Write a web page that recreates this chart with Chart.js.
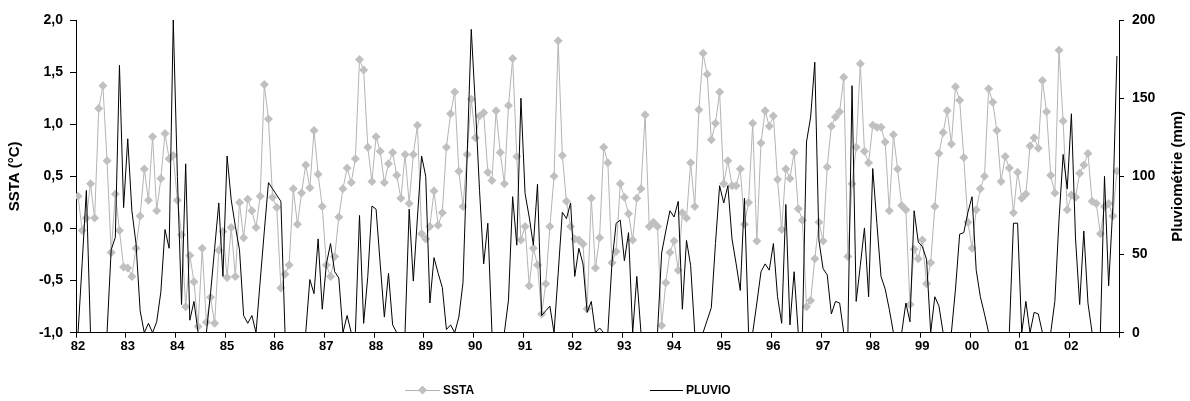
<!DOCTYPE html>
<html><head><meta charset="utf-8">
<script src="https://cdn.jsdelivr.net/npm/chart.js@4.4.1/dist/chart.umd.min.js"></script>
<style>html,body{margin:0;padding:0;background:#fff}#wrap{width:1190px;height:401px}</style>
</head><body><div id="wrap"><canvas id="c" width="1190" height="401"></canvas></div>
<script>
// Category (year) labels, one per 12 monthly values
const years = ['82','83','84','85','86','87','88','89','90','91','92','93','94','95','96','97','98','99','00','01','02'];
// Monthly SSTA (°C), Jan 1982 - Dec 2002
const sstaValues = [
 0.31,-0.02,0.10,0.43,0.10,1.15,1.37,0.65,-0.23,0.33,-0.02,-0.37,
 -0.38,-0.46,-0.19,0.12,0.57,0.27,0.88,0.17,0.48,0.91,0.67,0.70,
 0.27,-0.06,-0.75,-0.26,-0.51,-0.94,-0.19,-0.90,-0.66,-0.91,-0.21,-0.03,
 -0.47,0.01,-0.46,0.25,-0.09,0.28,0.17,0.01,0.31,1.38,1.05,0.30,
 0.20,-0.57,-0.44,-0.35,0.38,0.04,0.34,0.61,0.39,0.94,0.52,0.21,
 -0.35,-0.46,-0.27,0.11,0.38,0.58,0.44,0.67,1.62,1.52,0.78,0.45,
 0.88,0.74,0.44,0.62,0.73,0.51,0.29,0.71,0.24,0.71,0.99,-0.05,
 -0.10,0.02,0.36,0.03,0.15,0.78,1.10,1.31,0.55,0.21,0.71,1.24,
 0.87,1.08,1.11,0.54,0.46,1.13,0.73,0.43,1.18,1.63,0.69,-0.11,
 0.02,-0.55,-0.19,-0.35,-0.82,-0.53,0.02,0.50,1.80,0.70,0.26,0.02,
 -0.10,-0.11,-0.15,-0.77,0.29,-0.38,-0.09,0.78,0.63,-0.33,-0.22,0.43,
 0.30,0.14,-0.11,0.29,0.38,1.09,0.02,0.06,0.02,-0.93,-0.52,-0.23,
 -0.12,-0.40,0.15,0.10,0.63,0.21,1.14,1.68,1.48,0.85,1.01,1.31,
 0.43,0.65,0.41,0.41,0.57,0.04,0.25,1.01,-0.12,0.82,1.13,0.98,
 1.08,0.47,-0.01,0.57,0.48,0.73,0.19,0.08,-0.75,-0.69,-0.29,0.06,
 -0.12,0.59,0.98,1.07,1.12,1.45,-0.27,0.43,0.78,1.58,0.74,0.63,
 0.99,0.97,0.97,0.83,0.17,0.90,0.57,0.22,0.18,-0.73,-0.20,-0.29,
 -0.11,-0.53,-0.33,0.21,0.72,0.92,1.13,0.81,1.36,1.23,0.68,0.06,
 -0.19,0.18,0.38,0.50,1.34,1.21,0.94,0.45,0.69,0.58,0.15,0.54,
 0.29,0.33,0.79,0.87,0.77,1.42,1.12,0.51,0.34,1.71,1.03,0.18,
 0.32,0.30,0.53,0.61,0.72,0.26,0.24,-0.05,0.21,0.24,0.12,0.55
];
// Monthly rainfall (mm), Jan 1982 - Dec 2002
const pluvioValues = [
 0,45,91,0,0,0,0,0,53,61,171,80,
 124,78,57,14,0,6,0,7,26,66,54,200,
 100,18,108,8,20,0,0,0,25,54,83,36,
 113,85,68,53,11,6,11,0,33,65,96,92,
 88,84,0,0,0,0,0,0,34,25,60,15,
 44,57,39,35,0,11,0,0,75,6,36,81,
 79,44,10,38,5,0,0,0,79,33,74,113,
 100,19,48,38,29,2,5,0,10,32,113,194,
 145,91,44,70,0,0,0,0,21,87,56,150,
 89,74,56,95,11,14,17,0,38,77,73,83,
 36,54,44,13,20,0,3,0,0,45,70,72,
 46,64,0,36,0,0,0,0,0,51,65,78,
 74,84,15,59,43,0,0,0,8,16,57,94,
 83,94,60,44,27,86,0,0,19,39,44,40,
 57,23,6,82,5,39,0,0,122,138,173,59,
 41,37,12,20,19,0,0,158,20,43,67,23,
 105,70,36,28,15,0,0,0,19,7,78,58,
 55,47,0,23,17,0,0,0,28,63,64,77,
 87,40,23,12,0,0,0,0,0,0,70,70,
 0,20,0,13,12,0,0,0,20,72,114,92,
 140,60,18,65,19,0,0,0,100,30,80,177
];
const leftTicks = [-1, -0.5, 0, 0.5, 1, 1.5, 2];
const rightTicks = [0, 50, 100, 150, 200];
const seriesNames = ['SSTA', 'PLUVIO'];
const leftTitle = 'SSTA (°C)';
const rightTitle = 'Pluviométrie (mm)';

const FAMILY = "'Liberation Sans', Arial, sans-serif";
const TICKFONT = {family: FAMILY, size: 14, weight: 'bold'};
const XFONT = {family: FAMILY, size: 13, weight: 'bold'};
const TITLEFONT = {family: FAMILY, size: 15, weight: 'bold'};
const GREY_LINE = '#b4b4b4';
const GREY_PT = '#c0c0c0';

const rightTitlePlugin = {
  id: 'rightTitle',
  afterDraw(chart) {
    const ctx = chart.ctx, a = chart.chartArea;
    ctx.save();
    ctx.translate(1178, (a.top + a.bottom) / 2);
    ctx.rotate(-Math.PI / 2);
    ctx.font = 'bold 15px ' + FAMILY;
    ctx.fillStyle = '#000';
    ctx.textAlign = 'center';
    ctx.textBaseline = 'middle';
    ctx.fillText(rightTitle, 0, 0);
    ctx.restore();
  }
};

const legendPlugin = {
  id: 'lineLegend',
  afterDraw(chart) {
    const ctx = chart.ctx;
    const y = 390;
    const spots = [[405, 440], [650, 683]];
    chart.data.datasets.forEach((ds, k) => {
      const [x0, x1] = spots[k];
      ctx.save();
      ctx.strokeStyle = ds.borderColor;
      ctx.lineWidth = 1;
      ctx.beginPath(); ctx.moveTo(x0, y + 0.5); ctx.lineTo(x1, y + 0.5); ctx.stroke();
      if (ds.pointRadius > 0) {
        const cx = (x0 + x1) / 2, r = ds.pointRadius;
        ctx.fillStyle = ds.pointBackgroundColor;
        ctx.beginPath();
        ctx.moveTo(cx, y - r); ctx.lineTo(cx + r, y); ctx.lineTo(cx, y + r); ctx.lineTo(cx - r, y);
        ctx.closePath(); ctx.fill();
      }
      ctx.font = 'bold 12px ' + FAMILY;
      ctx.fillStyle = '#000';
      ctx.textAlign = 'left';
      ctx.textBaseline = 'middle';
      ctx.fillText(ds.label, x1 + 3, y + 1);
      ctx.restore();
    });
  }
};

new Chart(document.getElementById('c').getContext('2d'), {
  type: 'line',
  data: {
    datasets: [
      {
        label: seriesNames[0],
        data: sstaValues.map((v, i) => ({x: i + 0.5, y: v})),
        yAxisID: 'y',
        borderColor: GREY_LINE,
        borderWidth: 1,
        pointStyle: 'rectRot',
        pointRadius: 4.5,
        pointBackgroundColor: GREY_PT,
        pointBorderColor: GREY_PT,
        pointBorderWidth: 0,
        tension: 0,
        order: 1
      },
      {
        label: seriesNames[1],
        data: pluvioValues.map((v, i) => ({x: i + 0.5, y: v})),
        yAxisID: 'y2',
        borderColor: '#000000',
        borderWidth: 1,
        pointRadius: 0,
        tension: 0,
        order: 0
      }
    ]
  },
  options: {
    responsive: false,
    animation: false,
    layout: {padding: {top: 20, left: 0, right: 0, bottom: 0}},
    plugins: {legend: {display: false}, tooltip: {enabled: false}},
    scales: {
      x: {
        type: 'linear', min: 0, max: years.length * 12,
        afterBuildTicks: axis => { axis.ticks = years.map((_, k) => ({value: k * 12})).concat([{value: years.length * 12}]); },
        ticks: {callback: v => years[v / 12] || '', font: XFONT, color: '#000', maxRotation: 0, autoSkip: false, padding: 1, labelOffset: 2},
        grid: {drawOnChartArea: false, color: '#000', tickLength: 5},
        border: {color: '#000'},
        afterFit: s => { s.height = 68.3; }
      },
      y: {
        position: 'left', min: -1, max: 2,
        afterBuildTicks: axis => { axis.ticks = leftTicks.map(v => ({value: v})); },
        ticks: {callback: v => v.toFixed(1).replace('.', ','), font: TICKFONT, color: '#000', padding: 7},
        grid: {drawOnChartArea: false, color: '#000', tickLength: 6},
        border: {color: '#000'},
        title: {display: true, text: leftTitle, font: TITLEFONT, color: '#000', padding: {top: 6, bottom: 0}},
        afterFit: s => { s.width = 76; }
      },
      y2: {
        position: 'right', min: 0, max: 200,
        afterBuildTicks: axis => { axis.ticks = rightTicks.map(v => ({value: v})); },
        ticks: {font: TICKFONT, color: '#000', padding: 8},
        grid: {drawOnChartArea: false, color: '#000', tickLength: 5},
        border: {color: '#000'},
        afterFit: s => { s.width = 71; }
      }
    }
  },
  plugins: [rightTitlePlugin, legendPlugin]
});
</script>
</body></html>
